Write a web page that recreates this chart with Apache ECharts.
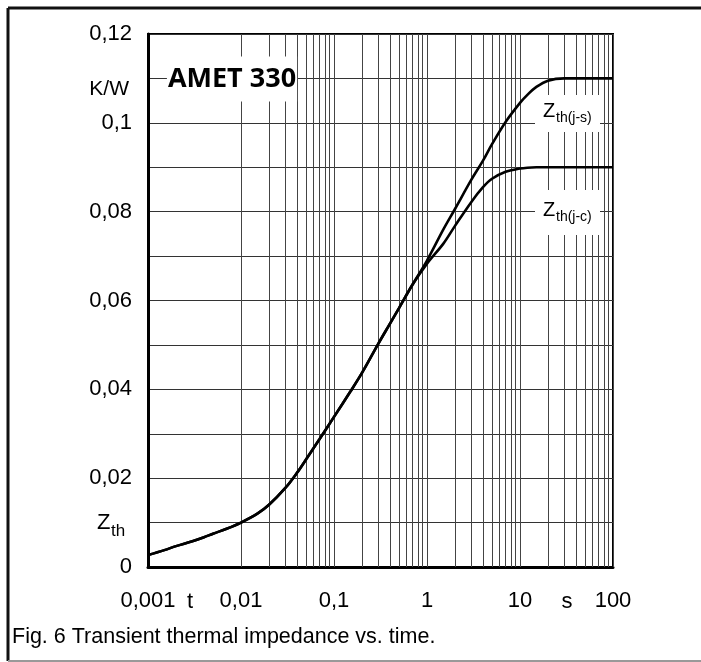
<!DOCTYPE html>
<html>
<head>
<meta charset="utf-8">
<script src="https://cdn.jsdelivr.net/npm/echarts@6/dist/echarts.min.js"></script>
<style>
  html, body { margin: 0; padding: 0; background: #fff; }
  #chart { width: 701px; height: 662px; }
</style>
</head>
<body>
<div id="chart"></div>
<script>
// time in s (log axis)
const times = [0.001, 0.0015, 0.002, 0.003, 0.004, 0.005, 0.007, 0.01, 0.015, 0.02, 0.03, 0.04, 0.05, 0.07,
  0.1, 0.15, 0.2, 0.3, 0.4, 0.5, 0.7, 1, 1.5, 2, 3, 4, 5, 7, 10, 12, 15, 20, 30, 50, 100]
// Zth(j-s) in K/W
const zthJS = [0.0027, 0.0038, 0.0047, 0.0058, 0.0067, 0.0075, 0.0086, 0.0100, 0.0120, 0.0140, 0.0178, 0.0212, 0.0242, 0.0288,
  0.0338, 0.0395, 0.0437, 0.0503, 0.0548, 0.0583, 0.0636, 0.0690, 0.0760, 0.0806, 0.0872, 0.0915, 0.0952, 0.1002, 0.1045, 0.1063, 0.1081, 0.1095, 0.1100, 0.1100, 0.1100]
// Zth(j-c) in K/W
const zthJC = [0.0027, 0.0038, 0.0047, 0.0058, 0.0067, 0.0075, 0.0086, 0.0100, 0.0120, 0.0140, 0.0178, 0.0212, 0.0242, 0.0288,
  0.0338, 0.0395, 0.0437, 0.0503, 0.0548, 0.0583, 0.0636, 0.0683, 0.0728, 0.0768, 0.0822, 0.0855, 0.0874, 0.0890, 0.0897, 0.0899, 0.0900, 0.0900, 0.0900, 0.0900, 0.0900]
// log grid: 1..9 in every decade
const decades = [0.001, 0.01, 0.1, 1, 10]
const gridSteps = [1, 2, 3, 4, 5, 6, 7, 8, 9]

const font = 'Liberation Sans, Arial, sans-serif'
const fmtNum = v => String(+(+v).toPrecision(3)).replace('.', ',')

let vLines = []
decades.forEach(d => gridSteps.forEach(s => vLines.push({xAxis: +(d * s).toPrecision(3)})))
vLines.push({xAxis: 100})

const toPairs = ys => times.map((t, i) => [t, ys[i]])

let chart = echarts.init(document.getElementById('chart'))
chart.setOption({
  animation: false,
  grid: {left: 148, top: 34, right: 88, bottom: 95, show: true, borderColor: '#000', borderWidth: 2},
  xAxis: {
    type: 'log', logBase: 10, min: 0.001, max: 100,
    axisLine: {show: true, lineStyle: {color: '#000', width: 3}},
    axisTick: {show: false},
    splitLine: {show: false},
    axisLabel: {
      margin: 23, color: '#000', fontSize: 22, fontFamily: font,
      showMinLabel: true, showMaxLabel: true,
      formatter: v => fmtNum(v)
    }
  },
  yAxis: {
    type: 'value', min: 0, max: 0.12, interval: 0.01,
    axisLine: {show: true, lineStyle: {color: '#000', width: 3}},
    axisTick: {show: false},
    splitLine: {show: true, lineStyle: {color: '#333', width: 1}},
    axisLabel: {
      margin: 16, color: '#000', fontSize: 22, fontFamily: font,
      formatter: v => Math.round(v * 100) % 2 === 0 ? fmtNum(v.toFixed(2)) : ''
    }
  },
  series: [
    {
      name: 'Zth(j-s)', type: 'line', data: toPairs(zthJS), showSymbol: false,
      smooth: 0.35, z: 5,
      lineStyle: {color: '#000', width: 2.6},
      markLine: {
        silent: true, symbol: 'none', label: {show: false}, z: 1,
        lineStyle: {color: '#444', width: 1, type: 'solid'},
        data: vLines
      }
    },
    {
      name: 'Zth(j-c)', type: 'line', data: toPairs(zthJC), showSymbol: false,
      smooth: 0.35, z: 5,
      lineStyle: {color: '#000', width: 2.6}
    }
  ],
  graphic: [
    // outer frame
    {type: 'line', shape: {x1: 8, y1: 8, x2: 701, y2: 8}, style: {stroke: '#111', lineWidth: 3}},
    {type: 'line', shape: {x1: 8, y1: 8, x2: 8, y2: 661}, style: {stroke: '#111', lineWidth: 3}},
    {type: 'line', shape: {x1: 8, y1: 661, x2: 701, y2: 661}, style: {stroke: '#999', lineWidth: 2}},
    // axis unit texts
    {type: 'text', x: 129, y: 89, z: 100, style: {text: 'K/W', font: '21px ' + font, fill: '#000', align: 'right', verticalAlign: 'middle'}},
    {type: 'text', x: 97, y: 523, z: 100, style: {text: 'Z', font: '22px ' + font, fill: '#000', verticalAlign: 'middle'}},
    {type: 'text', x: 111, y: 531, z: 100, style: {text: 'th', font: '17px ' + font, fill: '#000', verticalAlign: 'middle'}},
    {type: 'text', x: 190, y: 602, z: 100, style: {text: 't', font: '22px ' + font, fill: '#000', align: 'center', verticalAlign: 'middle'}},
    {type: 'text', x: 567, y: 602, z: 100, style: {text: 's', font: '22px ' + font, fill: '#000', align: 'center', verticalAlign: 'middle'}},
    // title box
    {type: 'text', x: 232, y: 79, z: 100, style: {
      text: 'AMET 330', font: 'bold 27px Open Sans, sans-serif', fill: '#000',
      align: 'center', verticalAlign: 'middle', backgroundColor: '#fff', padding: [10, 1, 8, 1]
    }},
    // curve labels
    {type: 'rect', z: 99, shape: {x: 535, y: 95, width: 65, height: 37}, style: {fill: '#fff'}},
    {type: 'text', x: 543, y: 111, z: 100, style: {text: 'Z', font: '20px ' + font, fill: '#000', verticalAlign: 'middle'}},
    {type: 'text', x: 556, y: 118, z: 100, style: {text: 'th(j-s)', font: '14px ' + font, fill: '#000', verticalAlign: 'middle'}},
    {type: 'rect', z: 99, shape: {x: 535, y: 190, width: 65, height: 45}, style: {fill: '#fff'}},
    {type: 'text', x: 543, y: 210, z: 100, style: {text: 'Z', font: '20px ' + font, fill: '#000', verticalAlign: 'middle'}},
    {type: 'text', x: 556, y: 217, z: 100, style: {text: 'th(j-c)', font: '14px ' + font, fill: '#000', verticalAlign: 'middle'}},
    // caption
    {type: 'text', x: 12, y: 637, z: 100, style: {text: 'Fig. 6 Transient thermal impedance vs. time.', font: '21.5px ' + font, fill: '#000', verticalAlign: 'middle'}}
  ]
})
</script>
</body>
</html>
